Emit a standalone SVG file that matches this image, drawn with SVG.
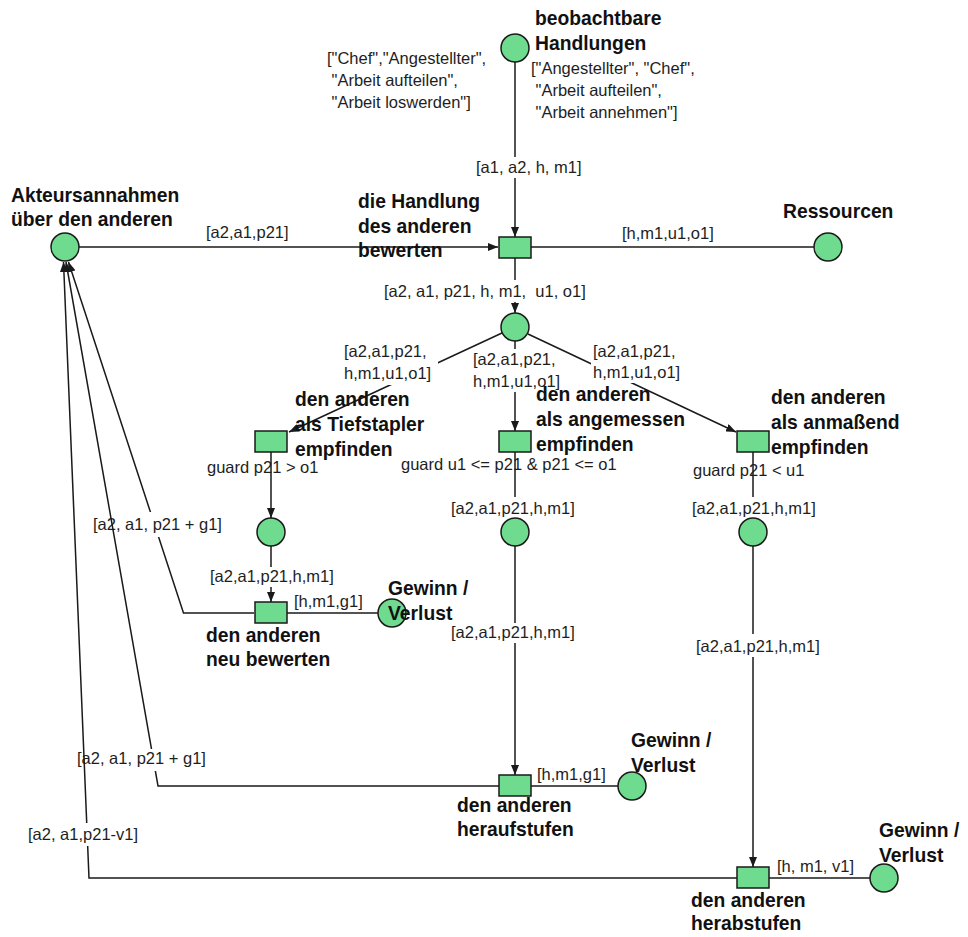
<svg xmlns="http://www.w3.org/2000/svg" width="968" height="937" viewBox="0 0 968 937">
<style>
.pl{fill:#6fdb8f;stroke:#1a1a1a;stroke-width:1.5}
.tr{fill:#6fdb8f;stroke:#1a1a1a;stroke-width:1.5}
.arc{fill:none;stroke:#1a1a1a;stroke-width:1.5}
.ar{marker-end:url(#ah)}
.bg{fill:#ffffff}
.lb{font-family:"Liberation Sans",Arial,sans-serif;font-size:16.5px;fill:#1e1e1e;white-space:pre}
.nm{font-family:"Liberation Sans",Arial,sans-serif;font-size:19.3px;font-weight:bold;fill:#111111}
</style>
<defs>
<marker id="ah" viewBox="0 0 10 8" refX="10" refY="4" markerWidth="10" markerHeight="8" markerUnits="userSpaceOnUse" orient="auto">
<path d="M0,0 L10,4 L0,8 z" fill="#1a1a1a"/>
</marker>
</defs>
<rect width="968" height="937" fill="#ffffff"/>
<g id="connectors">
<g id="a1"><path class="arc ar" d="M515,62 L515,237"/><rect class="bg" x="474" y="157" width="110" height="21"/><text class="lb" x="476" y="173">[a1, a2, h, m1]</text></g>
<g id="a2"><path class="arc ar" d="M79,247 L498,247"/><text class="lb" x="206" y="238">[a2,a1,p21]</text></g>
<g id="a3"><path class="arc" d="M531,247 L814,247"/><text class="lb" x="622" y="239">[h,m1,u1,o1]</text></g>
<g id="a4"><path class="arc ar" d="M515,258 L515,313"/><rect class="bg" x="382" y="280" width="210" height="22"/><text class="lb" x="384" y="297" xml:space="preserve">[a2, a1, p21, h, m1,  u1, o1]</text></g>
<g id="a5"><path class="arc ar" d="M502,333 L289,432"/><rect class="bg" x="341" y="342" width="97" height="43"/><text class="lb" x="344" y="357">[a2,a1,p21,</text><text class="lb" x="344" y="379">h,m1,u1,o1]</text></g>
<g id="a6"><path class="arc ar" d="M515,341 L515,431"/><rect class="bg" x="470" y="349" width="98" height="43"/><text class="lb" x="473" y="365">[a2,a1,p21,</text><text class="lb" x="473" y="387">h,m1,u1,o1]</text></g>
<g id="a7"><path class="arc ar" d="M528,334 L736,432"/><rect class="bg" x="591" y="342" width="91" height="41"/><text class="lb" x="593" y="357">[a2,a1,p21,</text><text class="lb" x="593" y="378">h,m1,u1,o1]</text></g>
<g id="a8"><path class="arc ar" d="M271,452 L271,518"/></g>
<g id="a9"><path class="arc ar" d="M271,546 L271,602"/><rect class="bg" x="208" y="567" width="128" height="20"/><text class="lb" x="210" y="582">[a2,a1,p21,h,m1]</text></g>
<g id="a10"><path class="arc" d="M287,613 L378,613"/><text class="lb" x="294" y="607">[h,m1,g1]</text></g>
<g id="a11"><path class="arc ar" d="M254,613 L183.5,613 L68.5,262"/><rect class="bg" x="91" y="512" width="134" height="25"/><text class="lb" x="93" y="530">[a2, a1, p21 + g1]</text></g>
<g id="a12"><path class="arc ar" d="M515,452 L515,518"/><rect class="bg" x="449" y="497" width="130" height="22"/><text class="lb" x="451" y="514">[a2,a1,p21,h,m1]</text></g>
<g id="a13"><path class="arc ar" d="M515,546 L515,775"/><rect class="bg" x="449" y="623" width="130" height="20"/><text class="lb" x="451" y="638">[a2,a1,p21,h,m1]</text></g>
<g id="a14"><path class="arc" d="M531,786 L618,786"/><text class="lb" x="537" y="780">[h,m1,g1]</text></g>
<g id="a15"><path class="arc ar" d="M499,786 L158,786 L66,262"/><rect class="bg" x="75" y="749" width="136" height="22"/><text class="lb" x="77" y="764">[a2, a1, p21 + g1]</text></g>
<g id="a16"><path class="arc ar" d="M753,452 L753,518"/><rect class="bg" x="690" y="497" width="130" height="22"/><text class="lb" x="692" y="514">[a2,a1,p21,h,m1]</text></g>
<g id="a17"><path class="arc ar" d="M753,546 L753,867"/><rect class="bg" x="694" y="634" width="130" height="23"/><text class="lb" x="696" y="652">[a2,a1,p21,h,m1]</text></g>
<g id="a18"><path class="arc" d="M769,878 L870,878"/><text class="lb" x="777" y="872">[h, m1, v1]</text></g>
<g id="a19"><path class="arc ar" d="M737,878 L89,878 L63.5,262"/><rect class="bg" x="26" y="823" width="114" height="23"/><text class="lb" x="28" y="840">[a2, a1,p21-v1]</text></g>
</g>
<g id="P_beob"><circle class="pl" cx="515" cy="48" r="14"/><text class="nm" x="535" y="25">beobachtbare</text><text class="nm" x="535" y="50">Handlungen</text>
<text class="lb" x="327" y="64">["Chef","Angestellter",</text><text class="lb" x="327" y="86" xml:space="preserve"> "Arbeit aufteilen",</text><text class="lb" x="327" y="108" xml:space="preserve"> "Arbeit loswerden"]</text>
<text class="lb" x="531" y="74">["Angestellter", "Chef",</text><text class="lb" x="531" y="96" xml:space="preserve"> "Arbeit aufteilen",</text><text class="lb" x="531" y="118" xml:space="preserve"> "Arbeit annehmen"]</text></g>
<g id="P_akteur"><circle class="pl" cx="65" cy="247" r="14"/><text class="nm" x="11" y="202">Akteursannahmen</text><text class="nm" x="11" y="226">über den anderen</text></g>
<g id="P_ressourcen"><circle class="pl" cx="828" cy="247" r="14"/><text class="nm" x="783" y="218">Ressourcen</text></g>
<g id="P_mid"><circle class="pl" cx="515" cy="327" r="14"/></g>
<g id="P_tief"><circle class="pl" cx="271" cy="532" r="14"/></g>
<g id="P_angem"><circle class="pl" cx="515" cy="532" r="14"/></g>
<g id="P_anma"><circle class="pl" cx="753" cy="532" r="14"/></g>
<g id="P_gv1"><circle class="pl" cx="392" cy="613" r="14"/><text class="nm" x="388" y="595">Gewinn /</text><text class="nm" x="388" y="620">Verlust</text></g>
<g id="P_gv2"><circle class="pl" cx="632" cy="786" r="14"/><text class="nm" x="631" y="747">Gewinn /</text><text class="nm" x="631" y="772">Verlust</text></g>
<g id="P_gv3"><circle class="pl" cx="884" cy="878" r="14"/><text class="nm" x="879" y="837">Gewinn /</text><text class="nm" x="879" y="862">Verlust</text></g>
<g id="T_bewerten"><rect class="tr" x="499" y="237" width="32" height="21"/><text class="nm" x="358" y="208">die Handlung</text><text class="nm" x="358" y="233">des anderen</text><text class="nm" x="358" y="257">bewerten</text></g>
<g id="T_tief"><rect class="tr" x="255" y="431" width="32" height="21"/><text class="nm" x="295" y="406">den anderen</text><text class="nm" x="295" y="431">als Tiefstapler</text><text class="nm" x="295" y="456">empfinden</text><text class="lb" x="207" y="473">guard p21 &gt; o1</text></g>
<g id="T_angem"><rect class="tr" x="499" y="431" width="32" height="21"/><text class="nm" x="536" y="401">den anderen</text><text class="nm" x="536" y="426">als angemessen</text><text class="nm" x="536" y="451">empfinden</text><text class="lb" x="401" y="470">guard u1 &lt;= p21 &amp; p21 &lt;= o1</text></g>
<g id="T_anma"><rect class="tr" x="737" y="431" width="32" height="21"/><text class="nm" x="771" y="404">den anderen</text><text class="nm" x="771" y="429">als anmaßend</text><text class="nm" x="771" y="454">empfinden</text><text class="lb" x="693" y="476">guard p21 &lt; u1</text></g>
<g id="T_neu"><rect class="tr" x="255" y="602" width="32" height="21"/><text class="nm" x="206" y="642">den anderen</text><text class="nm" x="206" y="666">neu bewerten</text></g>
<g id="T_herauf"><rect class="tr" x="499" y="775" width="32" height="21"/><text class="nm" x="457" y="812">den anderen</text><text class="nm" x="457" y="836">heraufstufen</text></g>
<g id="T_herab"><rect class="tr" x="737" y="867" width="32" height="21"/><text class="nm" x="691" y="907">den anderen</text><text class="nm" x="691" y="930">herabstufen</text></g>
</svg>
